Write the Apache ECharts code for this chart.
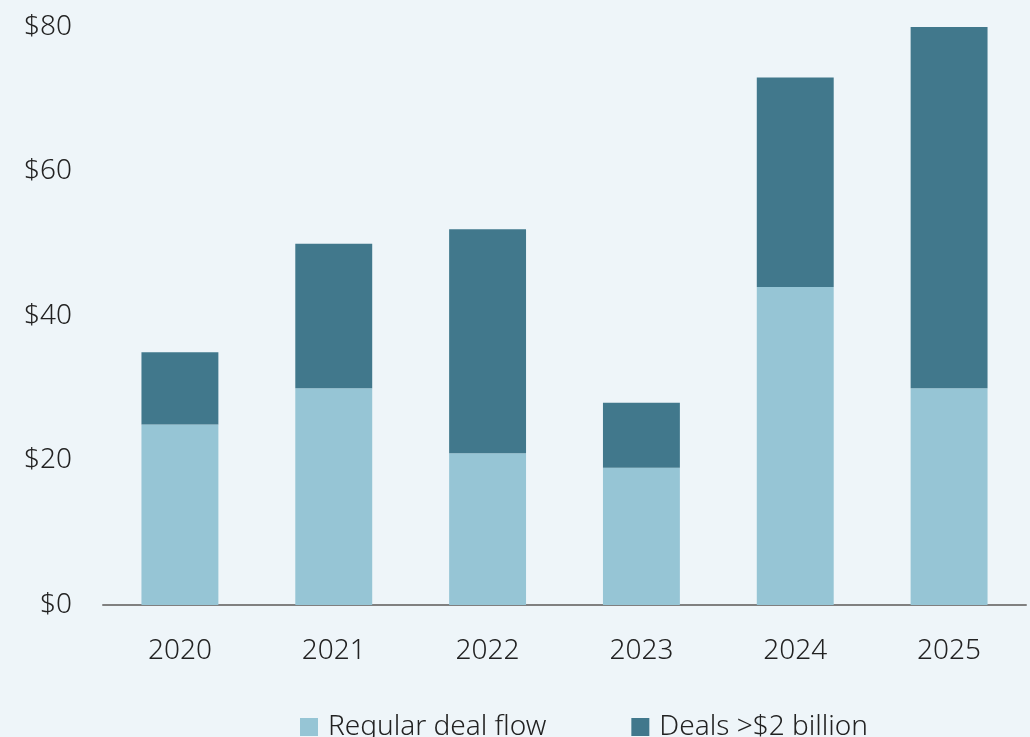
<!DOCTYPE html>
<html>
<head>
<meta charset="utf-8">
<script src="https://cdn.jsdelivr.net/npm/echarts@6/dist/echarts.min.js"></script>
<style>
  html, body { margin: 0; padding: 0; background: #eef5f9; }
  #chart { width: 1030px; height: 737px; }
</style>
</head>
<body>
<div id="chart"></div>
<script>
// Chart data
const years = ["2020", "2021", "2022", "2023", "2024", "2025"];
const regularDealFlow = [25, 30, 21, 19, 44, 30];
const largeDeals = [10, 20, 31, 9, 29, 50];
const yTicks = [0, 20, 40, 60, 80];

const FONT = "'Noto Sans', sans-serif";
const chart = echarts.init(document.getElementById("chart"));

chart.setOption({
  backgroundColor: "#eef5f9",
  animation: false,
  grid: { left: 103, right: 4, top: 27, bottom: 132 },
  legend: {
    left: 295,
    top: 708,
    itemWidth: 18,
    itemHeight: 18,
    itemGap: 85,
    icon: "rect",
    textStyle: {
      color: "#222",
      fontSize: 28,
      fontFamily: FONT,
      fontWeight: 300,
      padding: [0, 0, 0, 5],
    },
    data: ["Regular deal flow", "Deals >$2 billion"],
  },
  xAxis: {
    type: "category",
    data: years,
    axisLine: { lineStyle: { color: "#808080", width: 2 } },
    axisTick: { show: false },
    axisLabel: { color: "#222", fontSize: 28, fontFamily: FONT, margin: 32, fontWeight: 300 },
  },
  yAxis: {
    type: "value",
    min: yTicks[0],
    max: yTicks[yTicks.length - 1],
    interval: 20,
    splitLine: { show: false },
    axisLine: { show: false },
    axisTick: { show: false },
    axisLabel: {
      color: "#222",
      fontSize: 28,
      fontFamily: FONT,
      fontWeight: 300,
      margin: 31,
      formatter: (v) => "$" + v,
    },
  },
  series: [
    {
      name: "Regular deal flow",
      type: "bar",
      stack: "total",
      barWidth: "50%",
      data: regularDealFlow,
      itemStyle: { color: "#96c5d5" },
    },
    {
      name: "Deals >$2 billion",
      type: "bar",
      stack: "total",
      barWidth: "50%",
      data: largeDeals,
      itemStyle: { color: "#41788c" },
    },
  ],
});
</script>
</body>
</html>
